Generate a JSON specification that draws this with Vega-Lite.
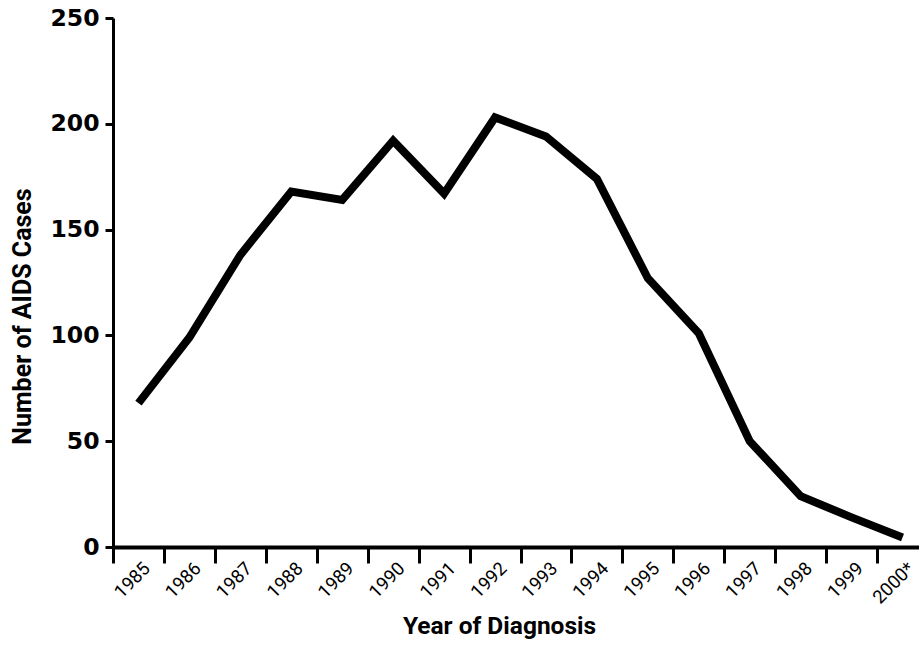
{
  "$schema": "https://vega.github.io/schema/vega-lite/v6.json",
  "autosize": "none",
  "padding": {"left": 113, "top": 18, "right": 0, "bottom": 98},
  "width": 806,
  "height": 529,
  "background": "white",
  "config": {"view": {"stroke": null}},
  "data": {
    "values": [
      {"year": "1985", "cases": 68},
      {"year": "1986", "cases": 99},
      {"year": "1987", "cases": 138},
      {"year": "1988", "cases": 168},
      {"year": "1989", "cases": 164},
      {"year": "1990", "cases": 192},
      {"year": "1991", "cases": 167},
      {"year": "1992", "cases": 203},
      {"year": "1993", "cases": 194},
      {"year": "1994", "cases": 174},
      {"year": "1995", "cases": 127},
      {"year": "1996", "cases": 101},
      {"year": "1997", "cases": 50},
      {"year": "1998", "cases": 24},
      {"year": "1999", "cases": 14},
      {"year": "2000*", "cases": 4.5}
    ]
  },
  "mark": {"type": "line", "color": "black", "strokeWidth": 8, "strokeJoin": "miter", "strokeCap": "butt"},
  "encoding": {
    "x": {
      "field": "year",
      "type": "nominal",
      "sort": null,
      "scale": {"type": "band", "range": [0, 815], "paddingInner": 0, "paddingOuter": 0},
      "axis": {
        "title": "Year of Diagnosis",
        "titleFont": "Roboto",
        "titleFontWeight": "bold",
        "titleFontSize": 24.5,
        "titleColor": "black",
        "titleX": 386,
        "titleY": 86,
        "titleAlign": "center",
        "titleBaseline": "alphabetic",
        "tickBand": "extent",
        "tickSize": 16,
        "tickWidth": 3,
        "tickColor": "black",
        "domainColor": "black",
        "domainWidth": 4,
        "labelFont": "Roboto",
        "labelFontSize": 18.5,
        "labelColor": "black",
        "labelAngle": -45,
        "labelAlign": "right",
        "labelBaseline": "middle",
        "labelOffset": 8,
        "labelPadding": 2,
        "grid": false
      }
    },
    "y": {
      "field": "cases",
      "type": "quantitative",
      "scale": {"domain": [0, 250], "nice": false},
      "axis": {
        "title": "Number of AIDS Cases",
        "titleFont": "Roboto",
        "titleFontWeight": "bold",
        "titleFontSize": 25,
        "titleColor": "black",
        "titleAngle": -90,
        "titleX": -91,
        "titleY": 298,
        "titleAlign": "center",
        "titleBaseline": "middle",
        "values": [0, 50, 100, 150, 200, 250],
        "tickSize": 8,
        "tickWidth": 3,
        "tickColor": "black",
        "domainColor": "black",
        "domainWidth": 3,
        "labelFont": "DejaVu Sans",
        "labelFontWeight": "bold",
        "labelFontSize": 23.5,
        "labelColor": "black",
        "labelPadding": 6,
        "grid": false
      }
    }
  }
}
